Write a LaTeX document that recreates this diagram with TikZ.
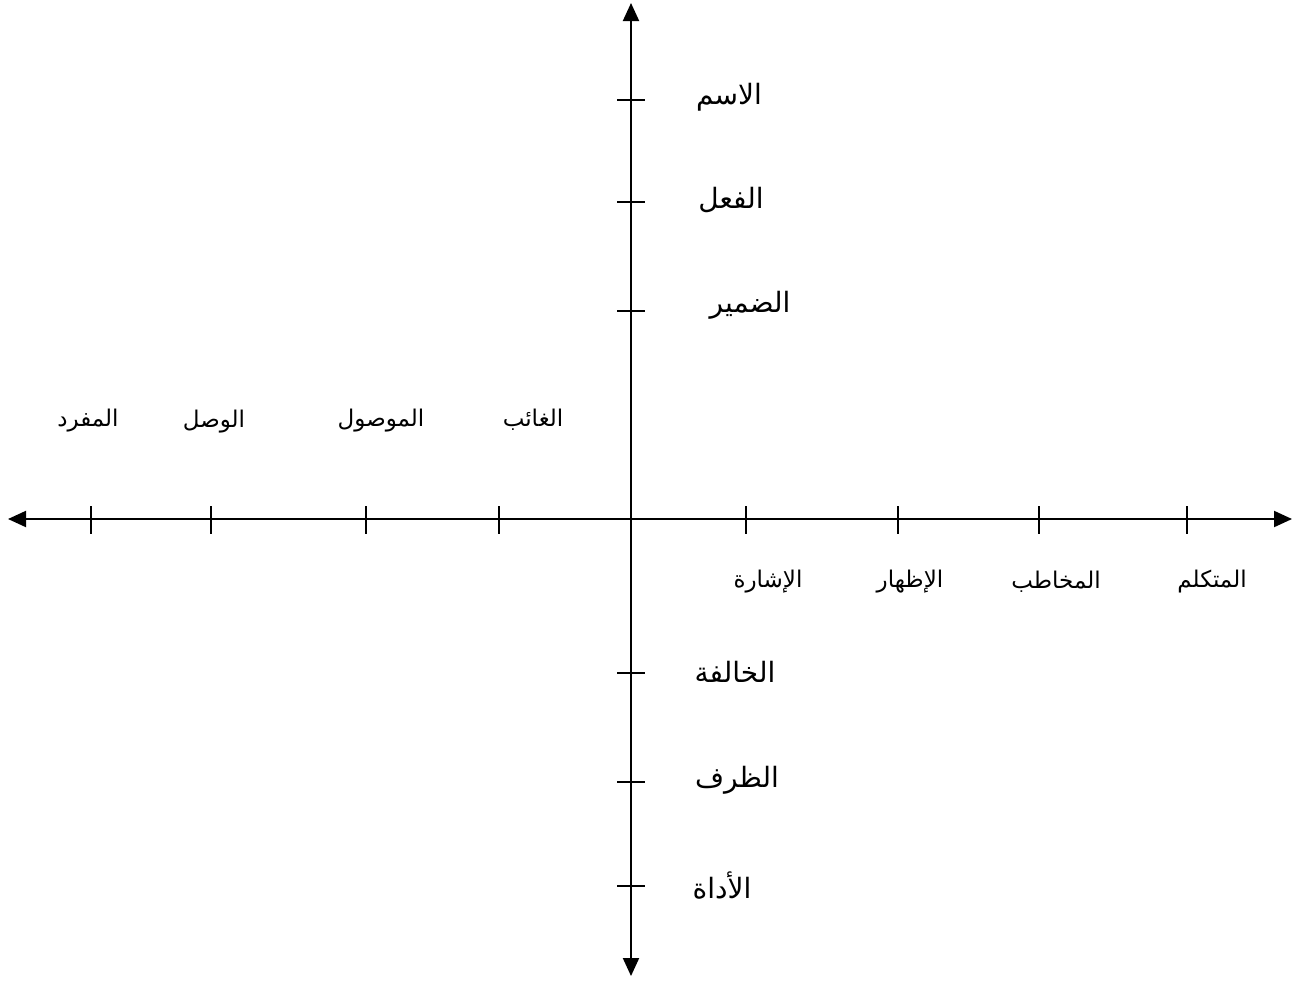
\documentclass[tikz,border=0pt]{standalone}
\usepackage{fontspec}
\usetikzlibrary{arrows.meta}
\TeXXeTstate=1
\newfontfamily\arabicfont[Script=Arabic]{DejaVu Sans}
\tikzset{
  axis/.style={line width=2pt,{Triangle[length=18pt,width=16pt]}-{Triangle[length=18pt,width=16pt]}},
  tick/.style={line width=2pt},
  vlab/.style={font=\arabicfont\fontsize{28}{32}\selectfont,inner sep=0pt},
  hlab/.style={font=\arabicfont\fontsize{23}{27}\selectfont,inner sep=0pt}
}
\newcommand{\ar}[1]{\beginR #1\endR}
\begin{document}
\begin{tikzpicture}[x=1pt,y=-1pt]
\useasboundingbox (0,0) rectangle (1295,980);
% axes end points
\coordinate (L) at (8,519);
\coordinate (R) at (1292,519);
\coordinate (T) at (631,3);
\coordinate (B) at (631,976);
\draw[axis] (L) -- (R);
\draw[axis] (B) -- (T);
% ticks on vertical axis
\foreach \y in {100,202,311,673,782,886} {
  \draw[tick] (617,\y) -- (645,\y);
}
% ticks on horizontal axis
\foreach \x in {91,211,366,499,746,898,1039,1187} {
  \draw[tick] (\x,506) -- (\x,534);
}
% vertical axis labels
\node[vlab] (ism) at (729,97) {\ar{الاسم}};
\node[vlab] (fil) at (731,200) {\ar{الفعل}};
\node[vlab] (damir) at (750,305) {\ar{الضمير}};
\node[vlab] (khalifa) at (735,672) {\ar{الخالفة}};
\node[vlab] (zarf) at (737,780) {\ar{الظرف}};
\node[vlab] (adat) at (722,886) {\ar{الأداة}};
% horizontal axis labels
\node[hlab] (mufrad) at (88,421) {\ar{المفرد}};
\node[hlab] (wasl) at (214,422) {\ar{الوصل}};
\node[hlab] (mawsul) at (381,421) {\ar{الموصول}};
\node[hlab] (ghaib) at (533,420) {\ar{الغائب}};
\node[hlab] (ishara) at (768,582) {\ar{الإشارة}};
\node[hlab] (izhar) at (910,582) {\ar{الإظهار}};
\node[hlab] (mukhatab) at (1056,582) {\ar{المخاطب}};
\node[hlab] (mutakallim) at (1212,582) {\ar{المتكلم}};
\end{tikzpicture}
\end{document}
